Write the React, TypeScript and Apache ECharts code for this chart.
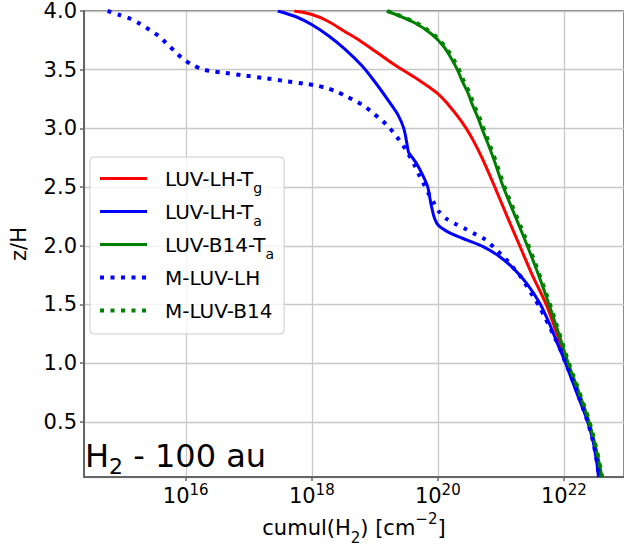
import React, { useEffect, useRef } from "react";
import * as echarts from "echarts";

const FONT = "DejaVu Sans";

// log10 of cumulative H2 column density (cm^-2) and z/H for each curve
const luvLhTgLogN = [17.72, 17.99, 18.25, 18.51, 18.77, 19.03, 19.29, 19.73, 19.99, 20.17, 20.32, 20.45, 20.56, 20.7, 20.905, 21.1, 21.3, 21.5, 21.72, 21.89, 22.05, 22.225, 22.39, 22.51, 22.595];
const luvLhTgZ = [4.0, 3.972, 3.915, 3.83, 3.745, 3.648, 3.55, 3.4, 3.3, 3.2, 3.1, 3.0, 2.9, 2.75, 2.5, 2.25, 2.0, 1.75, 1.5, 1.25, 1.0, 0.75, 0.5, 0.25, 0.03];

const luvLhTaLogN = [17.46, 17.75, 18.01, 18.27, 18.53, 18.8, 19.0, 19.21, 19.37, 19.46, 19.5, 19.527, 19.545, 19.605, 19.66, 19.76, 19.84, 19.89, 19.94, 20.006, 20.205, 20.467, 20.727, 20.989, 21.2, 21.41, 21.62, 21.77, 21.92, 22.0, 22.1, 22.23, 22.37, 22.46, 22.525, 22.55];
const luvLhTaZ = [4.0, 3.951, 3.881, 3.787, 3.673, 3.531, 3.397, 3.241, 3.113, 3.0, 2.9, 2.815, 2.787, 2.744, 2.702, 2.602, 2.502, 2.361, 2.247, 2.176, 2.105, 2.048, 1.991, 1.905, 1.807, 1.679, 1.508, 1.338, 1.138, 1.04, 0.897, 0.712, 0.513, 0.343, 0.144, 0.03];

const luvB14TaLogN = [19.19, 19.63, 19.91, 20.09, 20.21, 20.31, 20.39, 20.48, 20.55, 20.63, 20.7, 20.88, 21.04, 21.23, 21.42, 21.6, 21.765, 21.92, 22.07, 22.24, 22.4, 22.52, 22.605];
const luvB14TaZ = [4.0, 3.9, 3.8, 3.7, 3.6, 3.5, 3.4, 3.3, 3.2, 3.1, 3.0, 2.75, 2.5, 2.25, 2.0, 1.75, 1.5, 1.25, 1.0, 0.75, 0.5, 0.25, 0.03];

const mLuvLhLogN = [14.76, 14.95, 15.13, 15.28, 15.43, 15.57, 15.69, 15.82, 15.94, 16.08, 16.24, 16.39, 16.56, 16.9, 17.24, 17.58, 17.92, 18.09, 18.25, 18.4, 18.56, 18.72, 18.86, 18.99, 19.12, 19.24, 19.35, 19.45, 19.54, 19.63, 19.69, 19.77, 19.85, 19.94, 20.02, 20.15, 20.3, 20.45, 20.6, 20.75, 20.88, 21.0, 21.11, 21.22, 21.33, 21.42, 21.51, 21.61, 21.69, 21.77, 21.85, 21.93, 22.01, 22.11, 22.24, 22.37, 22.46, 22.53, 22.555];
const mLuvLhZ = [4.0, 3.966, 3.932, 3.889, 3.838, 3.787, 3.727, 3.659, 3.599, 3.548, 3.508, 3.488, 3.477, 3.452, 3.429, 3.403, 3.378, 3.363, 3.341, 3.312, 3.269, 3.227, 3.179, 3.122, 3.065, 3.0, 2.928, 2.853, 2.775, 2.687, 2.616, 2.534, 2.449, 2.363, 2.289, 2.225, 2.181, 2.14, 2.097, 2.054, 1.991, 1.928, 1.869, 1.798, 1.727, 1.65, 1.571, 1.485, 1.4, 1.317, 1.223, 1.138, 1.025, 0.897, 0.712, 0.513, 0.343, 0.144, 0.03];

const mLuvB14LogN = [19.2, 19.65, 19.93, 20.11, 20.235, 20.335, 20.415, 20.505, 20.575, 20.655, 20.725, 20.9, 21.06, 21.25, 21.44, 21.615, 21.78, 21.93, 22.08, 22.248, 22.407, 22.526, 22.61];
const mLuvB14Z = [4.0, 3.9, 3.8, 3.7, 3.6, 3.5, 3.4, 3.3, 3.2, 3.1, 3.0, 2.75, 2.5, 2.25, 2.0, 1.75, 1.5, 1.25, 1.0, 0.75, 0.5, 0.25, 0.03];

const seriesNames = ["LUV-LH-Tg", "LUV-LH-Ta", "LUV-B14-Ta", "M-LUV-LH", "M-LUV-B14"];
const legendLabels: Record<string, string> = {
  "LUV-LH-Tg": "LUV-LH-T{sub|g}",
  "LUV-LH-Ta": "LUV-LH-T{sub|a}",
  "LUV-B14-Ta": "LUV-B14-T{sub|a}",
  "M-LUV-LH": "M-LUV-LH",
  "M-LUV-B14": "M-LUV-B14",
};

// axis range in decades (log10 of column density)
const X_MIN_EXP = 14.385;
const X_MAX_EXP = 22.955;

function pairs(logN: number[], z: number[]) {
  return logN.map((e, i) => [e, z[i]]);
}

const DOT = [4, 6.5];

export default function App() {
  const ref = useRef<HTMLDivElement>(null);
  useEffect(() => {
    if (!ref.current) return;
    const chart = echarts.init(ref.current, undefined, { renderer: "svg" });
    const mk = (name: string, data: number[][], color: string, dotted: boolean, smooth: number) => ({
      name,
      type: "line",
      data,
      showSymbol: false,
      symbol: "none",
      smooth,
      clip: true,
      lineStyle: dotted
        ? { color, width: 4, type: DOT, cap: "butt" }
        : { color, width: 3, type: "solid" },
      itemStyle: { color },
    });
    chart.setOption({
      animation: false,
      grid: { left: 79, top: 11, right: 0, bottom: 74, show: true, borderColor: "#000", borderWidth: 1 },
      xAxis: {
        type: "value",
        min: X_MIN_EXP,
        max: X_MAX_EXP,
        splitNumber: 4,
        name: "{a|cumul(H}{s|2}{a|) [cm}{p|−2}{a|]}",
        nameLocation: "middle",
        nameGap: 29,
        nameTextStyle: {
          rich: {
            a: { fontFamily: FONT, fontSize: 21, color: "#000", lineHeight: 30 },
            s: { fontFamily: FONT, fontSize: 15, color: "#000", verticalAlign: "bottom", lineHeight: 34 },
            p: { fontFamily: FONT, fontSize: 15, color: "#000", verticalAlign: "top", lineHeight: 30 },
          },
        },
        axisLine: { show: true, lineStyle: { color: "#666", width: 2 } },
        axisTick: { show: true, length: 4, lineStyle: { color: "#666", width: 1.5 } },
        splitLine: { show: true, lineStyle: { color: "#c8c8c8", width: 1.3 } },
        axisLabel: {
          margin: 5,
          showMinLabel: false,
          showMaxLabel: false,
          formatter: (v: number) => {
            const e = Math.round(v);
            if (Math.abs(v - e) > 1e-6 || e % 2 !== 0) return "";
            return `{b|10}{p|${e}}`;
          },
          rich: {
            b: { fontFamily: FONT, fontSize: 21, color: "#000", lineHeight: 28 },
            p: { fontFamily: FONT, fontSize: 15, color: "#000", verticalAlign: "top", lineHeight: 28 },
          },
        },
      },
      yAxis: {
        type: "value",
        min: 0.03,
        max: 4.0,
        splitNumber: 8,
        name: "z/H",
        nameLocation: "middle",
        nameGap: 55,
        nameTextStyle: { fontFamily: FONT, fontSize: 21, color: "#000" },
        axisLine: { show: true, lineStyle: { color: "#666", width: 2 } },
        axisTick: { show: true, length: 4, lineStyle: { color: "#666", width: 1.5 } },
        splitLine: { show: true, lineStyle: { color: "#c8c8c8", width: 1.3 } },
        axisLabel: {
          margin: 7,
          showMinLabel: false,
          fontFamily: FONT,
          fontSize: 21,
          color: "#000",
          formatter: (v: number) => v.toFixed(1),
        },
      },
      legend: {
        orient: "vertical",
        left: 90,
        top: 157,
        padding: [5, 10, 7, 8],
        itemGap: 0,
        itemWidth: 47,
        itemHeight: 14,
        borderColor: "#cccccc",
        borderWidth: 1,
        borderRadius: 4,
        backgroundColor: "rgba(255,255,255,0.8)",
        itemStyle: { opacity: 0 },
        data: [
          { name: seriesNames[0], lineStyle: { width: 3, type: "solid" } },
          { name: seriesNames[1], lineStyle: { width: 3, type: "solid" } },
          { name: seriesNames[2], lineStyle: { width: 3, type: "solid" } },
          { name: seriesNames[3], lineStyle: { width: 4, type: DOT, cap: "butt" } },
          { name: seriesNames[4], lineStyle: { width: 4, type: DOT, cap: "butt" } },
        ],
        formatter: (name: string) => legendLabels[name],
        textStyle: {
          fontFamily: FONT,
          fontSize: 20,
          color: "#000",
          lineHeight: 33,
          padding: [0, 0, 0, 13],
          rich: {
            sub: { fontFamily: FONT, fontSize: 14, color: "#000", verticalAlign: "bottom", lineHeight: 33 },
          },
        },
      },
      graphic: [
        {
          type: "text",
          left: 85,
          top: 440,
          z: 100,
          style: {
            text: "{a|H}{b|2}{a| - 100 au}",
            fill: "#000",
            rich: {
              a: { fontFamily: FONT, fontSize: 32, fill: "#000", lineHeight: 42 },
              b: { fontFamily: FONT, fontSize: 22, fill: "#000", verticalAlign: "bottom", lineHeight: 42 },
            },
          },
        },
      ],
      series: [
        mk("LUV-LH-Tg", pairs(luvLhTgLogN, luvLhTgZ), "#ff0000", false, 0.35),
        mk("LUV-LH-Ta", pairs(luvLhTaLogN, luvLhTaZ), "#0000ff", false, 0.25),
        mk("LUV-B14-Ta", pairs(luvB14TaLogN, luvB14TaZ), "#008000", false, 0.35),
        mk("M-LUV-LH", pairs(mLuvLhLogN, mLuvLhZ), "#0000ff", true, 0.25),
        mk("M-LUV-B14", pairs(mLuvB14LogN, mLuvB14Z), "#008000", true, 0.35),
      ],
    });
    return () => chart.dispose();
  }, []);
  return (
    <div
      ref={ref}
      style={{ position: "fixed", left: 0, top: 0, width: 624, height: 551, background: "#fff" }}
    />
  );
}
